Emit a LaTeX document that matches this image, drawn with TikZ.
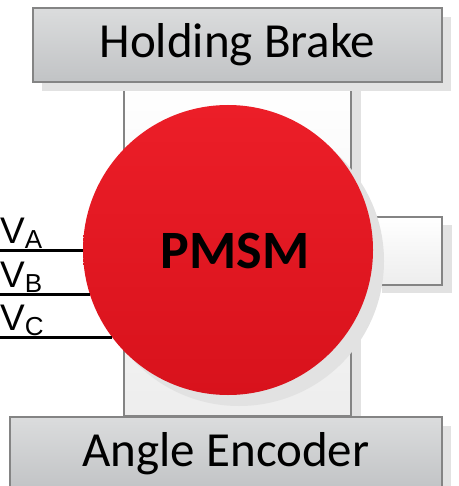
\documentclass[tikz,border=0pt]{standalone}
\usepackage{fontspec}
\setmainfont{Carlito}
\newfontfamily\arialfont{Liberation Sans}
\usetikzlibrary{shadows}
\definecolor{boxtop}{RGB}{219,220,221}
\definecolor{boxbot}{RGB}{193,195,197}
\definecolor{edgegray}{RGB}{132,132,132}
\definecolor{shadowgray}{RGB}{226,226,226}
\definecolor{redtop}{RGB}{236,30,40}
\definecolor{redbot}{RGB}{216,18,28}
\newcommand\vsub[1]{\raisebox{-5pt}{\fontsize{26}{26}\selectfont #1}}
\tikzset{
  plate/.style={draw=edgegray,line width=1.2pt,top color=boxtop,bottom color=boxbot,minimum width=#1,minimum height=74pt,inner sep=0pt,font=\fontsize{49}{50}\selectfont,
    drop shadow={shadow xshift=9pt,shadow yshift=-9pt,fill=shadowgray,opacity=1}},
  housing/.style={draw=edgegray,line width=1.2pt,top color=white,bottom color=black!7,inner sep=0pt,
    drop shadow={shadow xshift=10pt,shadow yshift=-8pt,fill=shadowgray,opacity=1}},
  rotor/.style={circle,top color=redtop,bottom color=redbot,minimum size=290pt,inner sep=0pt,
    drop shadow={shadow xshift=11pt,shadow yshift=-11pt,fill=shadowgray,opacity=1}},
  phase/.style={line width=3pt,black},
  vlab/.style={anchor=base west,inner sep=0pt,font=\arialfont\fontsize{37}{37}\selectfont},
}
\begin{document}
\begin{tikzpicture}[x=1pt,y=-1pt]
 \useasboundingbox (0,0) rectangle (458,486);
 \node[housing,minimum width=227pt,minimum height=334pt] (body) at (237.5,249){};
 \node[housing,minimum width=70pt,minimum height=68pt] (shaft) at (407,251){};
 \node[rotor] (motor) at (228,250){};
 \node[font=\bfseries\fontsize{54}{54}\selectfont] (pmsm) at (235,251){PMSM};
 \node[plate=409pt] (brake) at (237.5,45){Holding Brake};
 \node[plate=432pt] (encoder) at (226,454){Angle Encoder};
 % phase leads
 \coordinate (va) at (0,250);
 \coordinate (vb) at (0,294);
 \coordinate (vc) at (0,337);
 \draw[phase] (va) -- (va -| motor.west);
 \draw[phase] (vb) -- (vb -| motor.198);
 \draw[phase] (vc) -- (vc -| motor.217);
 \node[vlab] (la) at (0,243){V\vsub{A}};
 \node[vlab] (lb) at (0,287){V\vsub{B}};
 \node[vlab] (lc) at (0,330){V\vsub{C}};
\end{tikzpicture}
\end{document}
